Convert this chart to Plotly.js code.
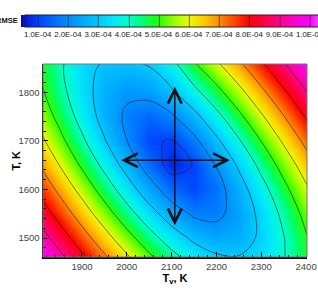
<!DOCTYPE html>
<html><head><meta charset="utf-8">
<script src="https://cdn.plot.ly/plotly-3.0.1.min.js"></script>
<style>html,body{margin:0;padding:0;background:#fff;overflow:hidden}#chart{width:318px;height:291px}</style>
</head><body><div id="chart"></div>
<script>
// Vibrational temperature Tv (K) grid
const tv = [1800, 1850, 1900, 1950, 2000, 2050, 2100, 2150, 2200, 2250, 2300, 2350, 2400, 2450];
// Temperature T (K) grid
const tK = [1450, 1500, 1550, 1600, 1650, 1700, 1750, 1800, 1850, 1900];
// RMSE, in units of 1e-4 (rows follow tK, columns follow tv)
const rmseE4 = [
  [10.51, 9.44, 8.39, 7.35, 6.35, 5.40, 4.53, 3.80, 3.31, 3.16, 3.40, 3.96, 4.73, 5.62],
  [9.61, 8.52, 7.44, 6.39, 5.36, 4.39, 3.50, 2.80, 2.45, 2.59, 3.15, 3.96, 4.91, 5.91],
  [8.73, 7.62, 6.53, 5.45, 4.39, 3.39, 2.48, 1.85, 1.79, 2.36, 3.24, 4.23, 5.29, 6.36],
  [7.89, 6.77, 5.66, 4.56, 3.47, 2.42, 1.50, 1.07, 1.62, 2.58, 3.64, 4.73, 5.83, 6.94],
  [7.11, 5.98, 4.86, 3.74, 2.64, 1.56, 0.69, 1.03, 2.05, 3.14, 4.26, 5.37, 6.50, 7.62],
  [6.40, 5.28, 4.17, 3.07, 2.01, 1.09, 0.95, 1.77, 2.82, 3.91, 5.02, 6.14, 7.26, 8.38],
  [5.79, 4.71, 3.65, 2.65, 1.82, 1.46, 1.87, 2.72, 3.72, 4.78, 5.87, 6.97, 8.08, 9.19],
  [5.32, 4.31, 3.38, 2.61, 2.18, 2.29, 2.87, 3.72, 4.69, 5.71, 6.77, 7.85, 8.94, 10.04],
  [5.03, 4.15, 3.30, 2.85, 2.75, 2.95, 3.55, 4.74, 5.68, 6.68, 7.71, 8.77, 9.84, 10.93],
  [4.94, 4.24, 3.70, 3.40, 3.50, 3.90, 4.70, 5.76, 6.69, 7.66, 8.68, 9.71, 10.77, 11.84]
];
// contour levels (1e-4 units) and colorbar labels
const levels = [1, 2, 3, 4, 5, 6, 7, 8, 9, 10];
const levelLabels = ['1.0E-04','2.0E-04','3.0E-04','4.0E-04','5.0E-04','6.0E-04','7.0E-04','8.0E-04','9.0E-04','1.0E-03'];
// uncertainty cross: Tv extent (left, centre, right) and T extent (bottom, centre, top)
const crossTv = [1984, 2107, 2230];
const crossT = [1523, 1660, 1811];

const zmin = 0.44, zmax = 11;
const stopVals = [0.44, 1, 1.5, 2, 2.5, 3, 3.5, 4, 4.5, 5, 5.5, 6, 6.5, 7, 7.5, 8, 8.5, 9, 9.5, 10, 10.5, 11];
const stopCols = ['rgb(0,10,200)','rgb(0,65,255)','rgb(0,105,255)','rgb(0,140,255)','rgb(0,170,255)','rgb(0,200,255)',
  'rgb(0,232,250)','rgb(0,255,205)','rgb(0,255,110)','rgb(40,255,0)','rgb(150,255,0)','rgb(235,250,0)',
  'rgb(255,200,0)','rgb(255,140,0)','rgb(255,70,0)','rgb(255,0,0)','rgb(255,0,70)','rgb(255,0,140)',
  'rgb(255,0,205)','rgb(250,0,255)','rgb(250,110,255)','rgb(250,175,255)'];
const colorscale = stopVals.map((v, i) => [(v - zmin) / (zmax - zmin), stopCols[i]]);

const trace = {
  type: 'contour', x: tv, y: tK, z: rmseE4,
  zauto: false, zmin: zmin, zmax: zmax, colorscale: colorscale,
  autocontour: false,
  contours: {start: levels[0], end: levels[levels.length - 1], size: 1, coloring: 'heatmap', showlines: true},
  line: {color: '#1a1a1a', width: 0.6, smoothing: 1},
  hoverinfo: 'skip',
  colorbar: {
    orientation: 'h', xref: 'container', yref: 'container',
    x: 25 / 318, xanchor: 'left', y: 1 - 15 / 291, yanchor: 'top',
    len: 319, lenmode: 'pixels', thickness: 12, thicknessmode: 'pixels',
    xpad: 0, ypad: 0, outlinewidth: 1, outlinecolor: '#222',
    tickvals: levels, ticktext: levelLabels, ticks: '', ticklabeloverflow: 'allow',
    tickfont: {size: 7.8, color: '#222', family: 'Liberation Sans, Arial, sans-serif'}
  }
};

const arrowStyle = {xref: 'x', yref: 'y', axref: 'x', ayref: 'y', text: '', showarrow: true,
  arrowhead: 5, startarrowhead: 5, arrowside: 'end+start', arrowwidth: 1.5,
  arrowsize: 1.8, startarrowsize: 1.8, arrowcolor: '#111', standoff: 0, startstandoff: 0};

const layout = {
  width: 318, height: 291,
  margin: {l: 43, r: 11, t: 64, b: 34},
  paper_bgcolor: '#fff', plot_bgcolor: '#fff',
  font: {family: 'Liberation Sans, Arial, sans-serif', size: 9.5, color: '#444'},
  showlegend: false,
  xaxis: {
    range: [1813, 2402], tick0: 1800, dtick: 100, ticks: 'inside', ticklen: 5, tickwidth: 1, tickcolor: '#000',
    minor: {dtick: 20, ticks: 'inside', ticklen: 2.5, tickcolor: '#000'},
    showline: true, linewidth: 1.5, linecolor: '#000', showgrid: false, zeroline: false,
    tickfont: {size: 9.5, color: '#444'},
    title: {text: '<b>T<sub>v</sub>, K</b>', font: {size: 11, color: '#000'}, standoff: 2}
  },
  yaxis: {
    range: [1461, 1858], tick0: 1500, dtick: 100, ticks: 'inside', ticklen: 5, tickwidth: 1, tickcolor: '#000',
    minor: {dtick: 20, ticks: 'inside', ticklen: 2.5, tickcolor: '#000'},
    showline: true, linewidth: 1.5, linecolor: '#000', showgrid: false, zeroline: false,
    tickfont: {size: 9.5, color: '#444'}
  },
  shapes: [{type: 'rect', xref: 'paper', yref: 'paper', x0: 0, x1: 1, y0: 0, y1: 1, line: {color: '#777', width: 1}}],
  annotations: [
    Object.assign({x: crossTv[2], y: crossT[1], ax: crossTv[0], ay: crossT[1]}, arrowStyle),
    Object.assign({x: crossTv[1], y: crossT[2], ax: crossTv[1], ay: crossT[0]}, arrowStyle),
    {xref: 'paper', yref: 'paper', x: (20 - 43) / 264, y: (257 - 20) / 193, xanchor: 'right', yanchor: 'middle',
     text: '<b>RMSE</b>', showarrow: false, font: {size: 7.5, color: '#111'}},
    {xref: 'paper', yref: 'paper', x: (15 - 43) / 264, y: 0.5, xanchor: 'center', yanchor: 'middle',
     textangle: -90, text: '<b>T, K</b>', showarrow: false, font: {size: 11, color: '#000'}}
  ]
};

Plotly.newPlot('chart', [trace], layout, {displayModeBar: false, staticPlot: true});
</script>
</body></html>
